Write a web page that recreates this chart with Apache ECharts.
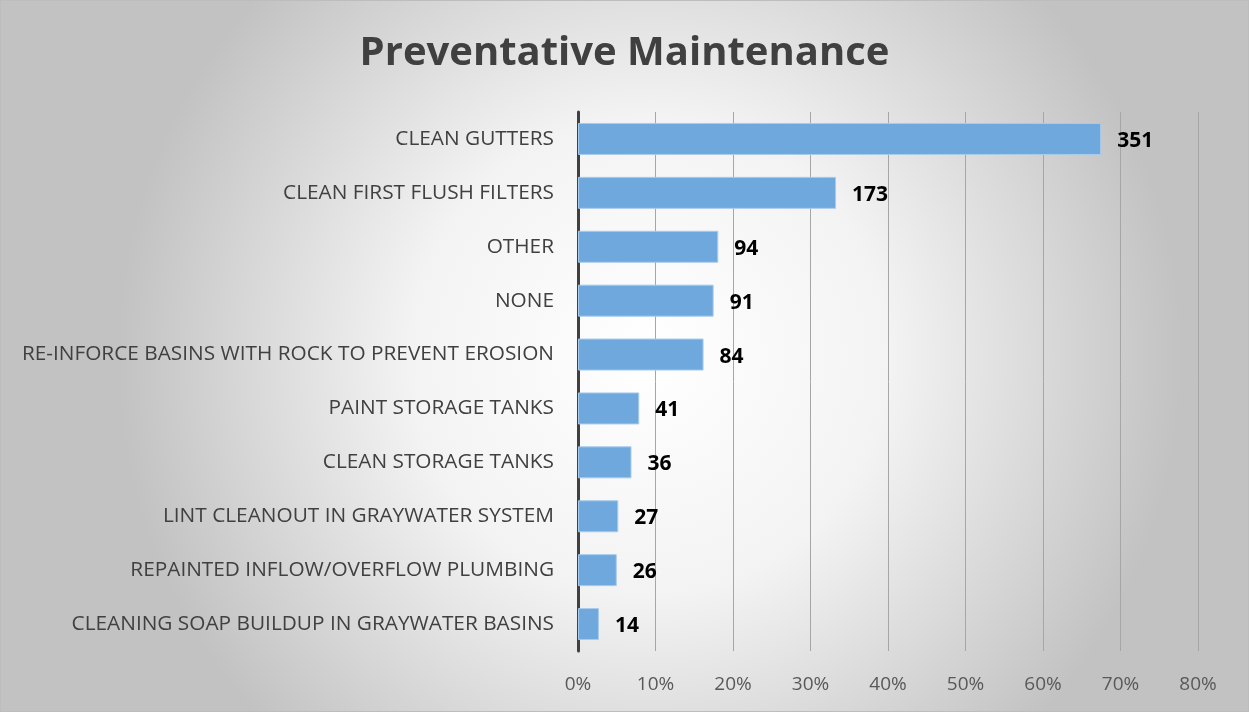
<!DOCTYPE html>
<html>
<head>
<meta charset="UTF-8">
<title>Preventative Maintenance</title>
<script src="https://cdn.jsdelivr.net/npm/echarts@6/dist/echarts.min.js"></script>
<style>
  body { margin: 0; }
  #main { width: 1247px; height: 710px; border: 1px solid #bdbdbd; }
</style>
</head>
<body>
<div id="main"></div>
<script type="text/javascript">
// categories top to bottom
var categories = [
  'CLEAN GUTTERS',
  'CLEAN FIRST FLUSH FILTERS',
  'OTHER',
  'NONE',
  'RE-INFORCE BASINS WITH ROCK TO PREVENT EROSION',
  'PAINT STORAGE TANKS',
  'CLEAN STORAGE TANKS',
  'LINT CLEANOUT IN GRAYWATER SYSTEM',
  'REPAINTED INFLOW/OVERFLOW PLUMBING',
  'CLEANING SOAP BUILDUP IN GRAYWATER BASINS'
];
// response counts (labels)
var counts = [351, 173, 94, 91, 84, 41, 36, 27, 26, 14];
// bar lengths, percent of respondents
var percents = [67.5, 33.3, 18.1, 17.5, 16.2, 7.9, 6.9, 5.2, 5.0, 2.7];

var myChart = echarts.init(document.getElementById('main'));

myChart.setOption({
    backgroundColor: {
        type: 'radial', x: 0.52, y: 0.5, r: 0.75,
        colorStops: [
            { offset: 0, color: '#ffffff' },
            { offset: 0.45, color: '#f3f3f3' },
            { offset: 1, color: '#c2c2c2' }
        ]
    },
    animation: false,
    title: {
        text: 'Preventative Maintenance',
        left: 'center',
        top: 28,
        textStyle: {
            fontFamily: 'Open Sans',
            fontSize: 40,
            fontWeight: 'bold',
            color: '#404040'
        }
    },
    grid: { left: 577, right: 50, top: 111, bottom: 60, containLabel: false },
    xAxis: {
        type: 'value',
        min: 0,
        max: 80,
        interval: 10,
        axisLine: { show: false },
        axisTick: { show: false },
        splitLine: { lineStyle: { color: '#a6a6a6', width: 1 } },
        axisLabel: {
            formatter: '{value}%',
            margin: 24,
            fontFamily: 'Open Sans',
            fontSize: 19,
            color: '#595959'
        }
    },
    yAxis: {
        type: 'category',
        inverse: true,
        data: categories,
        axisLine: { lineStyle: { color: '#404040', width: 3 } },
        axisTick: { show: false },
        axisLabel: {
            margin: 24,
            fontFamily: 'Open Sans',
            fontSize: 20.8,
            color: '#404040'
        }
    },
    series: [{
        type: 'bar',
        barWidth: 32,
        data: percents,
        itemStyle: {
            color: '#6fa8dc',
            borderColor: '#a9cbeb',
            borderWidth: 1
        },
        label: {
            show: true,
            position: 'right',
            distance: 16,
            offset: [0, 2],
            formatter: function (p) { return counts[p.dataIndex]; },
            fontFamily: 'Open Sans',
            fontSize: 21,
            fontWeight: 'bold',
            color: '#000'
        }
    }]
});
</script>
</body>
</html>
